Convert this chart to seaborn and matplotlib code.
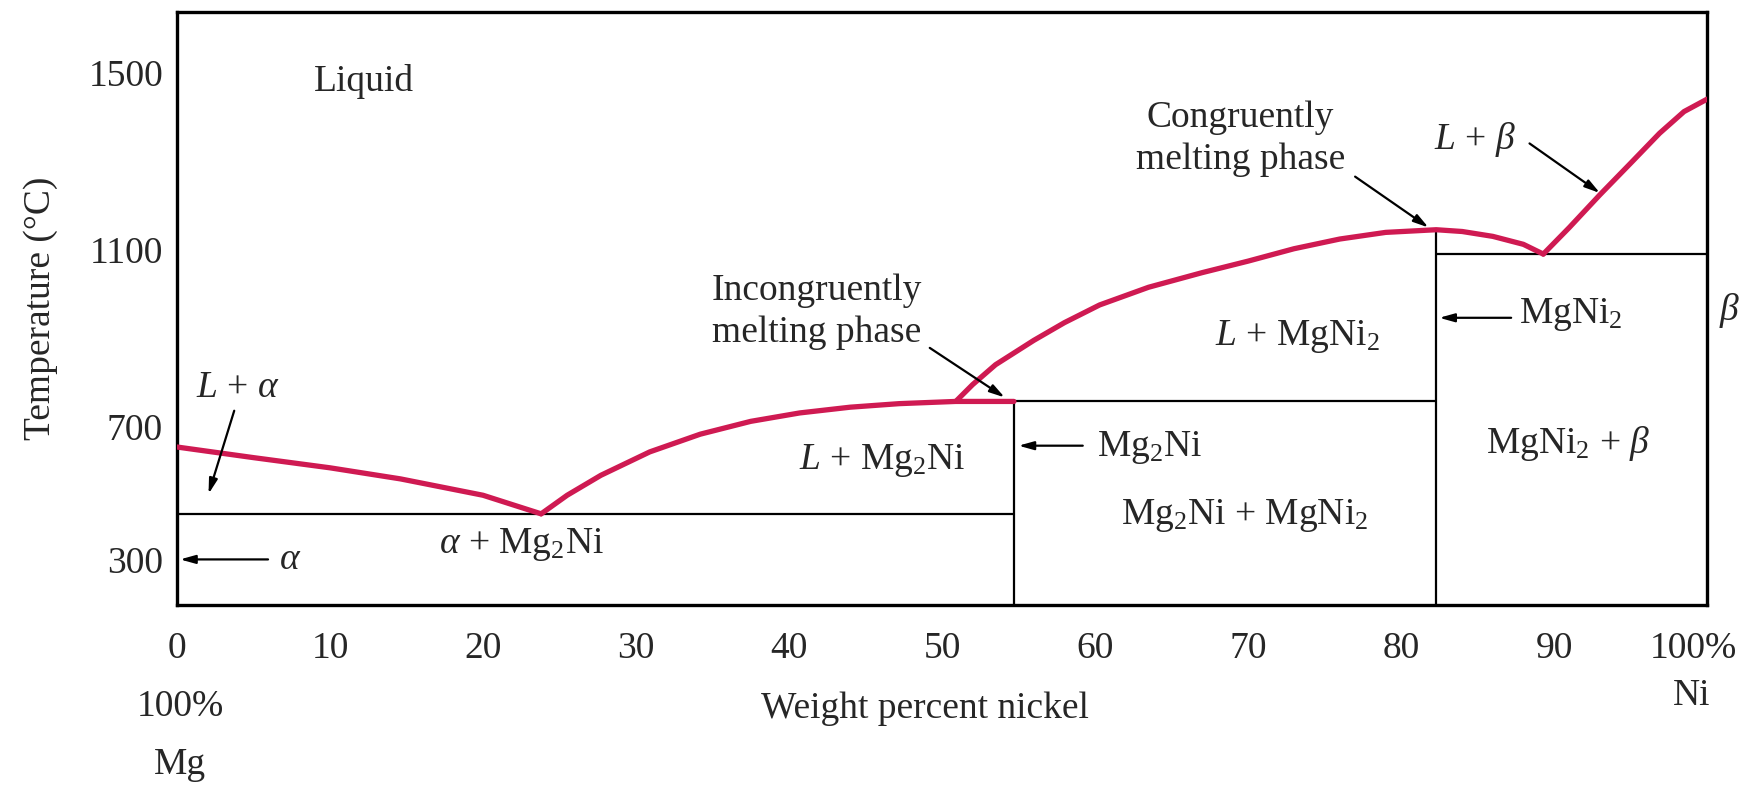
import matplotlib
matplotlib.use("Agg")
import matplotlib.pyplot as plt
import matplotlib.transforms as mtransforms
import seaborn as sns
import pandas as pd

# ---------------- data ----------------
# liquidus on the Mg side (L + alpha boundary)
liq_mg_x = [0, 5, 10, 14.6, 20, 23.8]
liq_mg_t = [654, 630, 607, 582, 545, 503]
# liquidus of Mg2Ni (incongruently melting) incl. peritectic segment
liq_mg2ni_x = [23.8, 25.5, 27.7, 30.9, 34.2, 37.5, 40.7, 44.0, 47.2, 50.9, 54.7]
liq_mg2ni_t = [503, 545, 590, 643, 683, 712, 731, 744, 752, 757, 757]
# liquidus of MgNi2 (congruently melting) down to the eutectic
liq_mgni2_x = [50.9, 52.0, 53.5, 56.0, 58.0, 60.3, 63.5, 67.0, 70.0, 73.0, 76.0, 79.0,
               82.3, 84.0, 86.0, 88.0, 89.3]
liq_mgni2_t = [757, 795, 840, 895, 935, 975, 1015, 1048, 1074, 1102, 1124, 1139,
               1145, 1141, 1130, 1112, 1090]
# liquidus on the Ni side (L + beta boundary)
liq_ni_x = [89.3, 91.0, 93.0, 95.0, 96.9, 98.5, 100.0]
liq_ni_t = [1090, 1150, 1224, 1295, 1363, 1412, 1440]

# invariant lines / phase boundaries
eutectic1_t, eutectic1_x = 503, (0, 54.7)
peritectic_t, peritectic_x = 757, (54.7, 82.3)
eutectic2_t, eutectic2_x = 1090, (82.3, 100)
mg2ni_x, mg2ni_top = 54.7, 757
mgni2_x, mgni2_top = 82.3, 1145

x_ticks = [0, 10, 20, 30, 40, 50, 60, 70, 80, 90, 100]
x_ticklabels = ["0", "10", "20", "30", "40", "50", "60", "70", "80", "90", "100%"]
y_ticks = [400, 700, 1100, 1500]
y_ticklabels = ["300", "700", "1100", "1500"]

RED = "#cf1a52"

# ---------------- style ----------------
sns.set_style("white")
plt.rcParams["font.family"] = ["Liberation Serif", "DejaVu Serif"]
plt.rcParams["mathtext.fontset"] = "custom"
plt.rcParams["mathtext.rm"] = "Liberation Serif"
plt.rcParams["mathtext.it"] = "Liberation Serif:italic"
plt.rcParams["mathtext.bf"] = "Liberation Serif:bold"

FS = 27
fig = plt.figure(figsize=(17.51, 7.87), dpi=100)
W, H = 1751, 787
L, R, T, B = 177, 1707, 12, 605
ax = fig.add_axes([L / W, 1 - B / H, (R - L) / W, (B - T) / H])
ax.set_xlim(0, 100)
ax.set_ylim(297, 1637)

# liquidus curves through seaborn
curves = [(liq_mg_x, liq_mg_t), (liq_mg2ni_x, liq_mg2ni_t),
          (liq_mgni2_x, liq_mgni2_t), (liq_ni_x, liq_ni_t)]
for xs, ts in curves:
    df = pd.DataFrame({"x": xs, "t": ts})
    sns.lineplot(data=df, x="x", y="t", sort=False, estimator=None,
                 color=RED, lw=3.8, ax=ax, zorder=3)

# black boundaries
blk = dict(color="black", lw=1.6, zorder=2)
ax.hlines(eutectic1_t, *eutectic1_x, **blk)
ax.hlines(peritectic_t, *peritectic_x, **blk)
ax.hlines(eutectic2_t, *eutectic2_x, **blk)
ax.vlines(mg2ni_x, 297, mg2ni_top, **blk)
ax.vlines(mgni2_x, 297, mgni2_top, **blk)

# axes styling
for s in ax.spines.values():
    s.set_linewidth(2.4)
    s.set_color("black")
ax.set_xticks(x_ticks)
ax.set_xticklabels(x_ticklabels)
ax.set_yticks(y_ticks)
ax.set_yticklabels(y_ticklabels)
ax.tick_params(axis="x", direction="in", length=23, width=1.4, pad=19,
               labelsize=FS, top=False)
ax.tick_params(axis="y", direction="in", length=21, width=1.8, pad=10,
               labelsize=FS, right=False)
ax.yaxis.get_major_ticks()[0].tick1line.set_visible(False)
ax.xaxis.get_major_ticks()[0].tick1line.set_visible(False)
ax.xaxis.get_major_ticks()[-1].tick1line.set_visible(False)
# the "100%" label sits a little left of the right spine
lbl = ax.get_xticklabels()[-1]
lbl.set_transform(lbl.get_transform() +
                  mtransforms.ScaledTranslation(-14 / 100, 0, fig.dpi_scale_trans))
ax.set_xlabel("")
ax.set_ylabel("Temperature (°C)", fontsize=FS)
ax.yaxis.set_label_coords(-0.078, 0.5)

# outside texts
fig.text(925 / W, 1 - 709 / H, "Weight percent nickel", fontsize=FS, ha="center", va="center")
fig.text(180 / W, 1 - 707 / H, "100%", fontsize=FS, ha="center", va="center")
fig.text(180 / W, 1 - 765 / H, "Mg", fontsize=FS, ha="center", va="center")
fig.text(1692 / W, 1 - 696 / H, "Ni", fontsize=FS, ha="center", va="center")

# region labels
def lab(x, y, s, ha="center", **kw):
    ax.text(x, y, s, fontsize=FS, ha=ha, va="center", **kw)

lab(12.25, 1479, "Liquid")
lab(4.0, 788, r"$L$ + $\alpha$")
lab(17.1, 434, r"$\alpha$ + Mg$_2$Ni", ha="left")
lab(46.1, 624, r"$L$ + Mg$_2$Ni")
lab(69.8, 499, r"Mg$_2$Ni + MgNi$_2$")
lab(73.2, 904, r"$L$ + MgNi$_2$")
lab(90.9, 661, r"MgNi$_2$ + $\beta$")
lab(101.5, 962, r"$\beta$", clip_on=False)
ax.text(41.8, 960, "Incongruently\nmelting phase", fontsize=FS, ha="center",
        va="center", linespacing=1.3)
ax.text(69.5, 1350, "Congruently\nmelting phase", fontsize=FS, ha="center",
        va="center", linespacing=1.3)

arr = dict(arrowstyle="-|>,head_length=0.9,head_width=0.25", color="black", lw=1.6,
           shrinkA=0, shrinkB=0)
# L + alpha arrow
ax.annotate("", xy=(2.06, 548), xytext=(3.74, 736), arrowprops=arr)
# alpha arrow
ax.annotate("", xy=(0.2, 400), xytext=(5.95, 400), arrowprops=arr)
lab(7.4, 400, r"$\alpha$")
# Mg2Ni arrow
ax.annotate("", xy=(55.0, 657), xytext=(59.2, 657), arrowprops=arr)
lab(60.1, 652, r"Mg$_2$Ni", ha="left")
# MgNi2 arrow
ax.annotate("", xy=(82.5, 946), xytext=(87.2, 946), arrowprops=arr)
lab(87.7, 954, r"MgNi$_2$", ha="left")
# incongruent arrow
ax.annotate("", xy=(54.1, 766), xytext=(49.2, 878), arrowprops=arr)
# congruent arrow
ax.annotate("", xy=(81.8, 1150), xytext=(77.0, 1265), arrowprops=arr)
# L + beta label and arrow
lab(84.8, 1348, r"$L$ + $\beta$")
ax.annotate("", xy=(93.0, 1228), xytext=(88.4, 1340), arrowprops=arr)

fig.savefig("out.png", dpi=100, facecolor="white")
